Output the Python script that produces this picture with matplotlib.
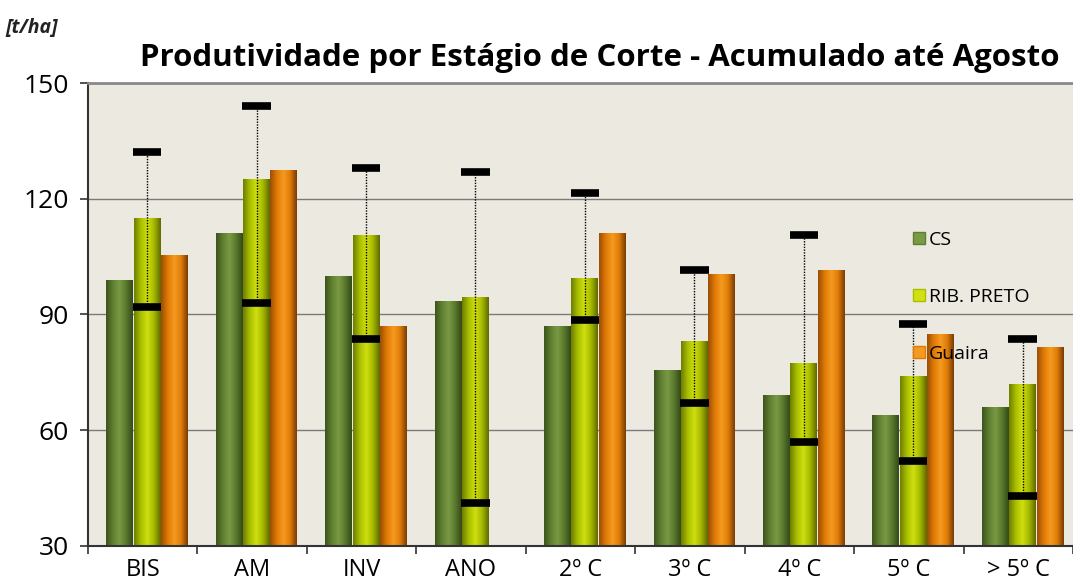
import numpy as np
import matplotlib.pyplot as plt
from matplotlib.colors import LinearSegmentedColormap
from matplotlib.patches import Patch

plt.rcParams['font.family'] = ['Open Sans', 'DejaVu Sans']

categorias = ['BIS', 'AM', 'INV', 'ANO', '2º C', '3º C', '4º C', '5º C', '> 5º C']
cs = [99, 111, 100, 93.5, 87, 75.5, 69, 64, 66]
rib_preto = [115, 125, 110.5, 94.5, 99.5, 83, 77.5, 74, 72]
guaira = [105.5, 127.5, 87, np.nan, 111, 100.5, 101.5, 85, 81.5]
faixa_max = [132, 144, 128, 127, 121.5, 101.5, 110.5, 87.5, 83.5]
faixa_min = [92, 93, 83.5, 41, 88.5, 67, 57, 52, 43]

series = [
    ('CS', cs, ['#3c541c', '#5f7f30', '#7a9a45', '#5a7a2c', '#34491a'], -0.21),
    ('RIB. PRETO', rib_preto, ['#6f7e00', '#a9bf00', '#d0e010', '#a5b800', '#5e6a00'], 0.04),
    ('Guaira', guaira, ['#9a4e05', '#e07a05', '#f59a20', '#e07d08', '#7a3c05'], 0.29),
]
larg = 0.245

fig = plt.figure(figsize=(10.73, 5.87), dpi=100)
ax = fig.add_axes([88/1073, 1 - 545.7/587, 985/1073, (545.7 - 83)/587])
ax.set_facecolor('#ece9e1')

x = np.arange(len(categorias))
grad = np.linspace(0, 1, 64).reshape(1, -1)
for nome, vals, cores, off in series:
    cmap = LinearSegmentedColormap.from_list(nome, cores)
    bars = ax.bar(x + off, vals, larg, bottom=0, color=cores[2], zorder=2, linewidth=0)
    for b, v in zip(bars, vals):
        if np.isnan(v):
            continue
        x0 = b.get_x()
        im = ax.imshow(grad, cmap=cmap, aspect='auto', extent=[x0, x0 + larg, 30, v],
                       zorder=2.5, interpolation='bicubic')
        im.set_clip_path(b)

# faixa (min / max) sobre RIB. PRETO
xe = x + 0.04
ax.vlines(xe, faixa_min, faixa_max, colors='black', linestyles=(0, (1, 1)), linewidth=1, zorder=4)
ax.hlines(faixa_max, xe - 0.13, xe + 0.13, colors='black', linewidth=5.5, zorder=5)
ax.hlines(faixa_min, xe - 0.13, xe + 0.13, colors='black', linewidth=5.5, zorder=5)
ax.set_xlim(-0.5, len(categorias) - 0.5)
ax.set_ylim(30, 150)

ax.set_yticks([30, 60, 90, 120, 150])
ax.yaxis.grid(True, color='#7a7a7a', linewidth=1)
ax.set_axisbelow(True)
ax.tick_params(axis='y', labelsize=19, length=6, width=1.2, color='#333333', pad=8)
ax.set_xticks(x)
ax.set_xticklabels(categorias)
ax.set_xticks(np.arange(-0.5, len(categorias)), minor=True)
ax.tick_params(axis='x', which='major', length=0, labelsize=17, pad=9)
ax.tick_params(axis='x', which='minor', length=6, width=1.2, color='#333333')
for s in ['left', 'bottom']:
    ax.spines[s].set_color('#333333')
    ax.spines[s].set_linewidth(1.5)
ax.spines['top'].set_color('#8a8a8a')
ax.spines['top'].set_linewidth(2)
ax.spines['right'].set_visible(False)

handles = [Patch(facecolor=c[2], edgecolor=c[1]) for _, _, c, _ in series]
leg = ax.legend(handles, [s[0] for s in series], loc='upper left',
                bbox_to_anchor=(0.82, 0.718), frameon=False, fontsize=14,
                handlelength=0.6, handleheight=0.6, handletextpad=0.2, labelspacing=2.0)

fig.text(600/1073, 1 - 58/587, 'Produtividade por Estágio de Corte - Acumulado até Agosto',
         ha='center', va='center', fontsize=22.5, fontweight='bold')
fig.text(5/1073, 1 - 28/587, '[t/ha]', ha='left', va='center', fontsize=14,
         fontweight='bold', fontstyle='italic', color='#222222')

fig.savefig('out.png', dpi=100)
